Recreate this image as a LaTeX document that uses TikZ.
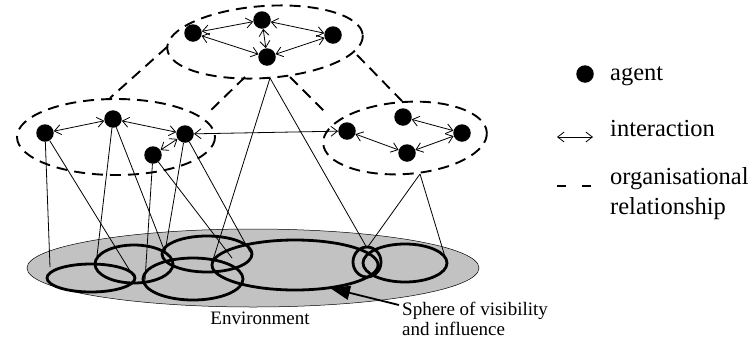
\documentclass[tikz,border=0pt]{standalone}
\usepackage{fontspec}
\setmainfont{Liberation Serif}
\usetikzlibrary{arrows.meta}
\begin{document}
\begin{tikzpicture}[x=1pt,y=-1pt,
  agent/.style={circle,fill=black,inner sep=0pt,minimum size=17.5pt},
  inter/.style={{Straight Barb[length=6.5pt,width=10pt]}-{Straight Barb[length=6.5pt,width=10pt]},line width=0.8pt},
  org/.style={line width=1.9pt,dash pattern=on 11pt off 7pt},
  sphere/.style={line width=2.8pt},
  link/.style={line width=0.8pt},
  envfill/.style={fill=black!24,draw=black,line width=0.5pt},
  lgtext/.style={font=\fontsize{24.5}{26}\selectfont,inner sep=0pt,anchor=base west},
  smalltext/.style={font=\fontsize{19}{20}\selectfont,inner sep=0pt}
]
\useasboundingbox (0,0) rectangle (751,338);

% environment
\path[envfill] (253,268) ellipse [x radius=226, y radius=39];

% spheres of visibility
\draw[sphere] (91,278) ellipse [x radius=44, y radius=14];
\draw[sphere] (134,264) ellipse [x radius=39, y radius=19];
\draw[sphere] (193,279) ellipse [x radius=50, y radius=21];
\draw[sphere] (207,254) ellipse [x radius=45, y radius=18];
\draw[sphere] (295,265) ellipse [x radius=83, y radius=25];
\draw[sphere] (367,262) ellipse [x radius=14, y radius=15];
\draw[sphere] (405,263) ellipse [x radius=42, y radius=19];

% organisational relationships
\draw[org,rotate around={4:(265,42)}] (265,42) ellipse [x radius=98, y radius=36];
\draw[org] (116,137) ellipse [x radius=99, y radius=38];
\draw[org,rotate around={4:(405,138)}] (405,138) ellipse [x radius=82, y radius=36];
\coordinate (d1a) at (167,47);  \coordinate (d1b) at (110,98);
\coordinate (d2a) at (245,77);  \coordinate (d2b) at (207,114);
\coordinate (d3a) at (357,55);  \coordinate (d3b) at (402,101);
\coordinate (d4a) at (290,77);  \coordinate (d4b) at (325,112);
\draw[org] (d1a) -- (d1b);
\draw[org] (d2a) -- (d2b);
\draw[org] (d3a) -- (d3b);
\draw[org] (d4a) -- (d4b);

% agents
\node[agent] (T1) at (193,33) {};
\node[agent] (T2) at (262,20) {};
\node[agent] (T3) at (333,35) {};
\node[agent] (T4) at (267,57) {};
\node[agent] (L1) at (45,133) {};
\node[agent] (L2) at (113,119) {};
\node[agent] (L3) at (185,134) {};
\node[agent] (L4) at (153,155) {};
\node[agent] (R1) at (347,131) {};
\node[agent] (R2) at (403,117) {};
\node[agent] (R3) at (462,133) {};
\node[agent] (R4) at (407,153) {};

% interactions
\draw[inter] (T1) -- (T2);
\draw[inter] (T2) -- (T3);
\draw[inter] (T2) -- (T4);
\draw[inter] (T1) -- (T4);
\draw[inter] (T3) -- (T4);
\draw[inter] (L1) -- (L2);
\draw[inter] (L2) -- (L3);
\draw[inter] (L3) -- (L4);
\draw[inter] (R2) -- (R3);
\draw[inter] (R3) -- (R4);
\draw[inter] (R4) -- (R1);
\draw[inter] (L3) -- (R1);

% links to the environment
\coordinate (e1l) at (50,267);
\coordinate (e1r) at (135,279);
\coordinate (e2l) at (97,256);
\coordinate (e4l) at (165,252);
\coordinate (e4r) at (250,252);
\coordinate (e3l) at (145,280);
\coordinate (e4b) at (232,258);
\coordinate (e5l) at (212,263);
\coordinate (e6t) at (367,248);
\coordinate (e7r) at (446,260);
\coordinate (topb) at (270,78);
\coordinate (rgtb) at (420,174);
\draw[link] (L1) -- (e1l);
\draw[link] (L1) -- (e1r);
\draw[link] (L2) -- (e2l);
\draw[link] (L2) -- (e4l);
\draw[link] (L3) -- (e4l);
\draw[link] (L3) -- (e4r);
\draw[link] (L4) -- (e3l);
\draw[link] (L4) -- (e4b);
\draw[link] (topb) -- (e5l);
\draw[link] (topb) -- (e6t);
\draw[link] (rgtb) -- (e6t);
\draw[link] (rgtb) -- (e7r);

% labels
\node[smalltext,anchor=base] (env) at (260,324) {Environment};
\node[smalltext,anchor=base west] (sph1) at (402,315) {Sphere of visibility};
\node[smalltext,anchor=base west] (sph2) at (402,335) {and influence};
\coordinate (ptail) at (399,305);
\coordinate (ptip) at (330,288);
\draw[line width=1.8pt,-{Triangle[length=20pt,width=14pt]}] (ptail) -- (ptip);

% legend
\node[agent] (lgA) at (585,74) {};
\node[lgtext] (lgAt) at (610,80) {agent};
\coordinate (lgI1) at (557,137);
\coordinate (lgI2) at (593,137);
\draw[inter] (lgI1) -- (lgI2);
\node[lgtext] (lgIt) at (610,136) {interaction};
\coordinate (lgD1) at (557,186);
\coordinate (lgD2) at (566,186);
\coordinate (lgD3) at (582,186);
\coordinate (lgD4) at (591,186);
\draw[line width=1.9pt] (lgD1) -- (lgD2);
\draw[line width=1.9pt] (lgD3) -- (lgD4);
\node[lgtext] (lgOt1) at (610,184) {organisational};
\node[lgtext] (lgOt2) at (610,214) {relationship};
\end{tikzpicture}
\end{document}
